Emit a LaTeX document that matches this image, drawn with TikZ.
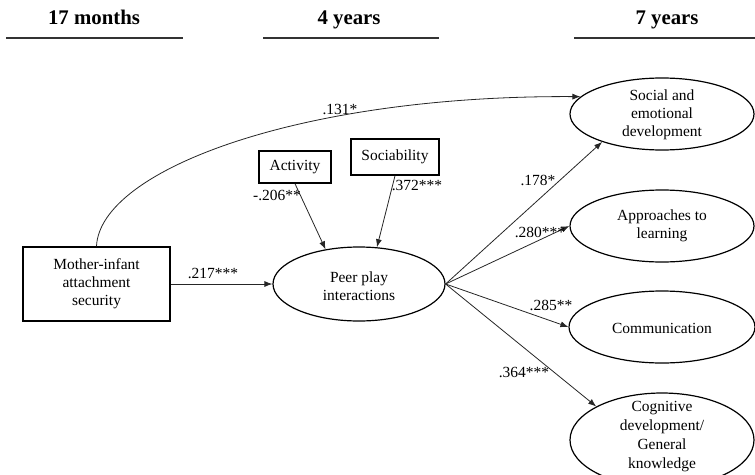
\documentclass[tikz,border=0pt]{standalone}
\usepackage{fontspec}
\setmainfont{Liberation Serif}
\usetikzlibrary{shapes.geometric,arrows.meta}
\begin{document}
\begin{tikzpicture}[x=0.75pt,y=-0.75pt,
 oval/.style={draw, ellipse, line width=0.9pt, inner sep=0pt},
 box/.style={draw, line width=1.1pt, inner sep=0pt, align=center, font=\fontsize{11.6}{13.5}\selectfont},
 txt/.style={align=center, font=\fontsize{11.6}{13.5}\selectfont, inner sep=0pt},
 lab/.style={font=\fontsize{11.6}{13.5}\selectfont, inner sep=0pt},
 head/.style={font=\fontsize{15.6}{18}\bfseries\selectfont, inner sep=0pt, anchor=base},
 hline/.style={line width=1.6pt, draw=black!80},
 arr/.style={line width=0.6pt, draw=black!85, -{Latex[length=6pt,width=4.5pt]}}
]
\useasboundingbox (0,0) rectangle (755,474);
\clip (0,0) rectangle (755,474);

% headers
\node[head] (h1) at (94,25) {17 months};
\node[head] (h2) at (349,25) {4 years};
\node[head] (h3) at (667,25) {7 years};
\draw[hline] (6,38) -- (183,38);
\draw[hline] (263,38) -- (439,38);
\draw[hline] (574,38) -- (755,38);

% boxes
\node[box, minimum width=110.25pt, minimum height=55.5pt] (mother) at (96.5,284) {Mother-infant\\attachment\\security};
\node[box, minimum width=54pt, minimum height=24pt] (activity) at (295,167) {Activity};
\node[box, minimum width=66pt, minimum height=27pt] (sociab) at (395,157) {Sociability};

% ellipses
\node[oval, minimum width=129pt, minimum height=55.5pt] (peer) at (359,284) {};
\node[txt] (peert) at (359,286) {Peer play\\interactions};

\node[oval, minimum width=138pt, minimum height=54pt] (soc) at (662,114) {};
\node[txt] (soct) at (662,115) {Social and\\emotional\\development};

\node[oval, minimum width=138pt, minimum height=54pt] (appr) at (662,226) {};
\node[txt] (apprt) at (662,226) {Approaches to\\learning};

\node[oval, minimum width=139.5pt, minimum height=54pt] (comm) at (662,327) {};
\node[txt] (commt) at (662,328) {Communication};

\node[oval, minimum width=138pt, minimum height=70.5pt] (cog) at (662,440) {};
\node[txt, font=\fontsize{11.6}{14.25}\selectfont] (cogt) at (662,437) {Cognitive\\development/\\General\\knowledge};

% connectors
\draw[arr] (mother.east) -- (peer.west);
\draw[arr] (activity.south) -- (peer.134);
\draw[arr] (sociab.south) -- (peer.64);
\draw[arr] (mother.north) .. controls (100,170) and (300,95) .. (soc.168);
\draw[arr] (peer.east) -- (soc.205);
\draw[arr] (peer.east) -- (appr.west);
\draw[arr] (peer.east) -- (comm.west);
\draw[arr] (peer.east) -- (cog.153);

% labels
\node[lab] (l131) at (340,109) {.131*};
\node[lab] (l206) at (277,195) {-.206**};
\node[lab] (l372) at (417,185) {.372***};
\node[lab] (l217) at (213,273) {.217***};
\node[lab] (l178) at (538,180) {.178*};
\node[lab] (l280) at (540,232) {.280***};
\node[lab] (l285) at (551,305) {.285**};
\node[lab] (l364) at (524,372) {.364***};
\end{tikzpicture}
\end{document}
